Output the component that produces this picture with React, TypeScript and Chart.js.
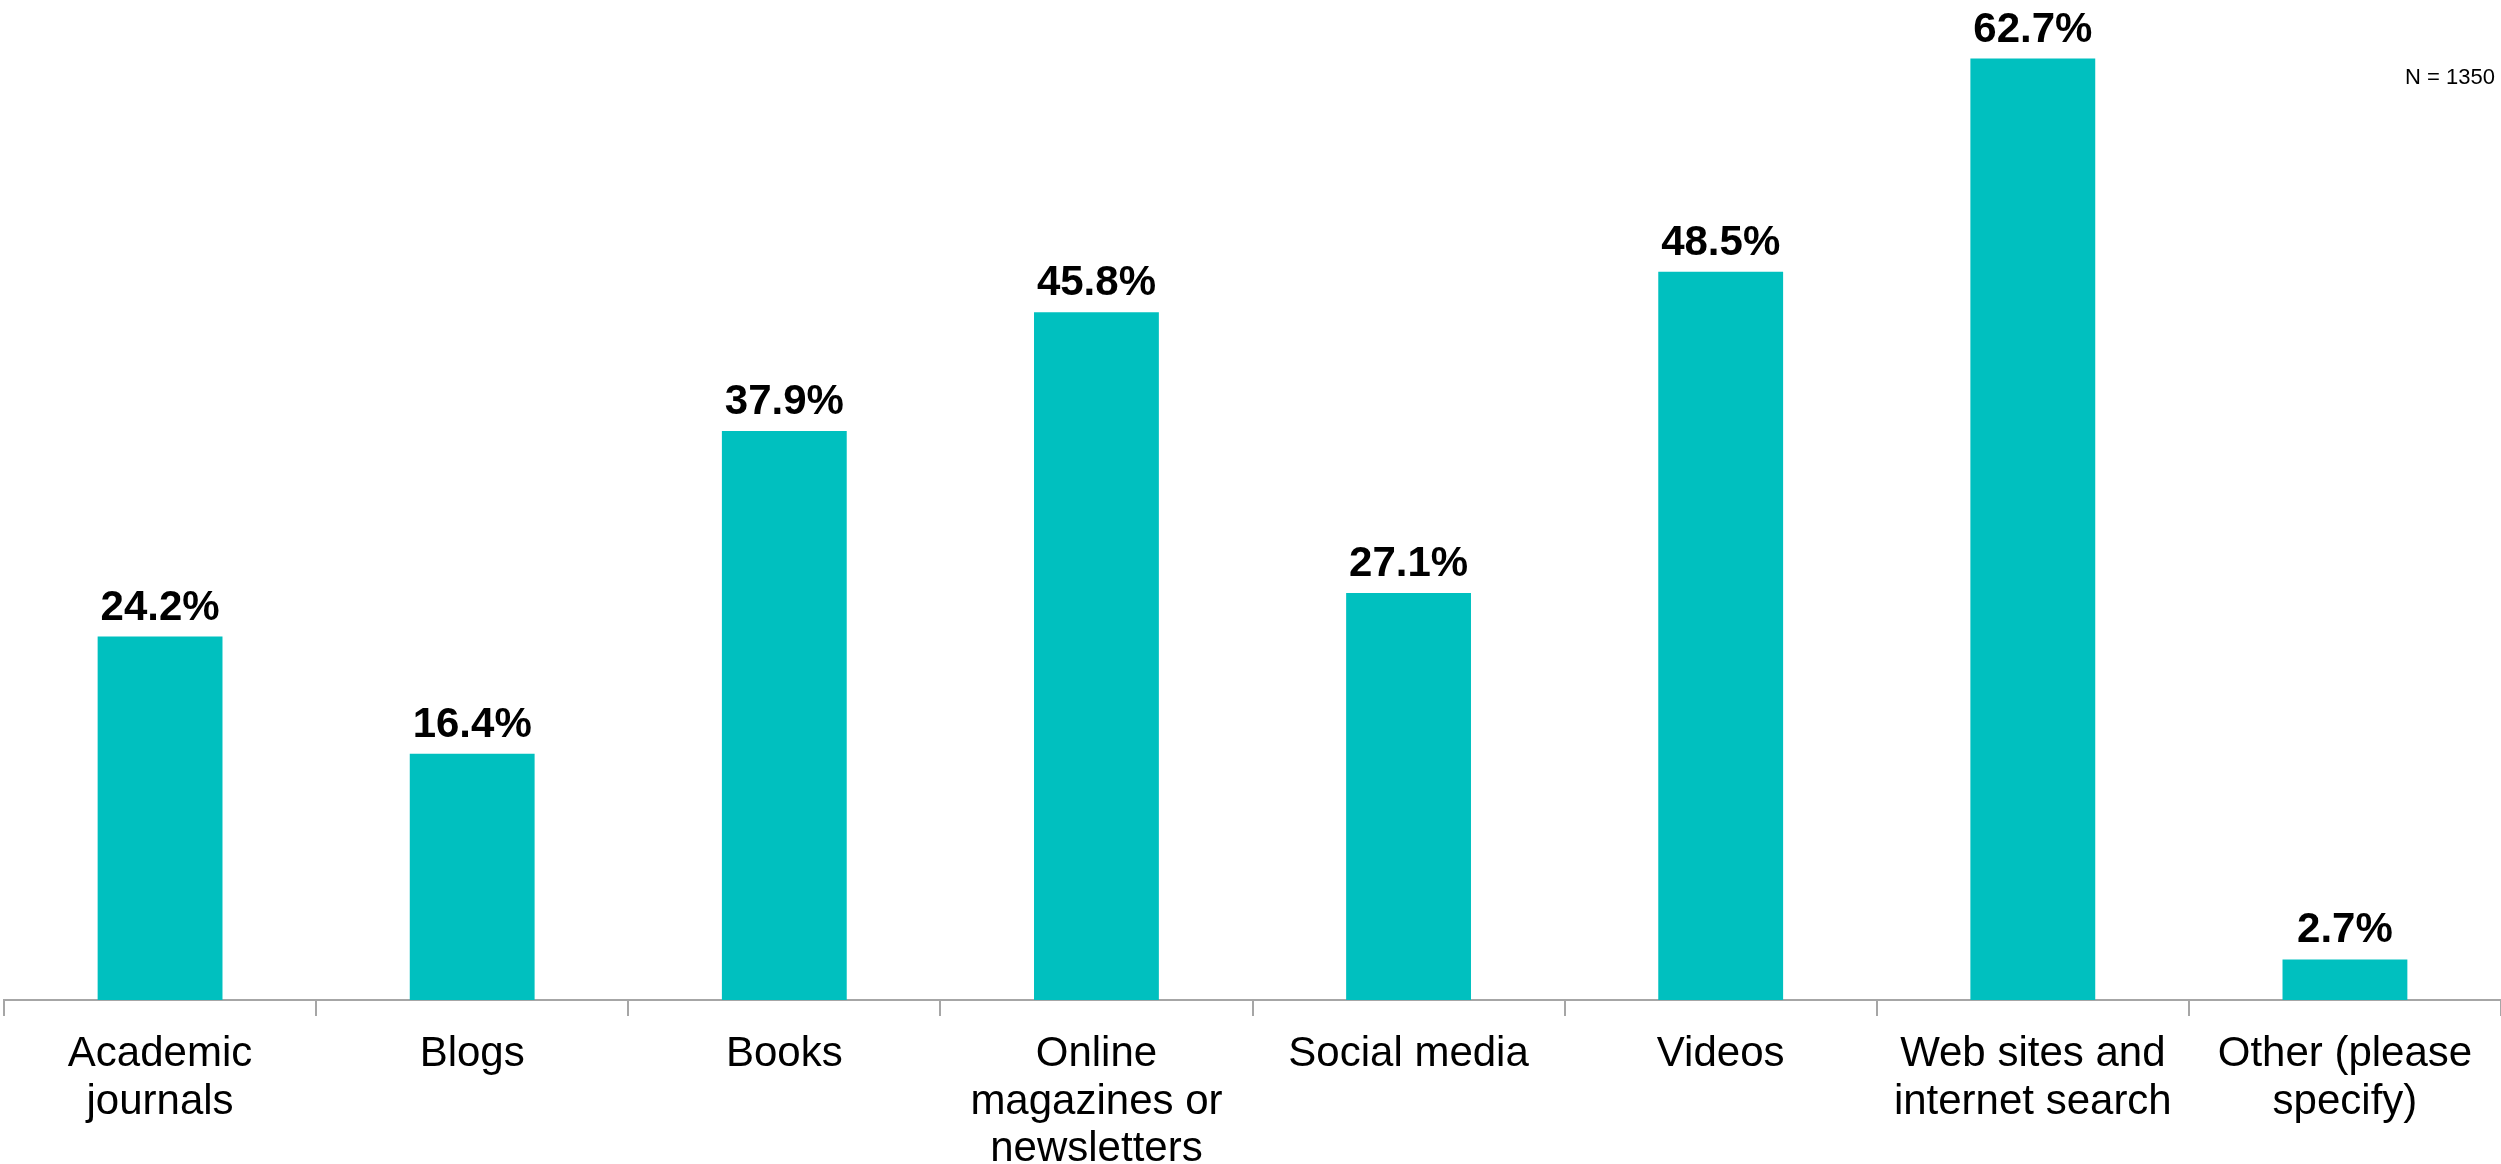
import React, { useEffect, useRef } from "react";
import { Chart, registerables } from "chart.js";

Chart.register(...registerables);

const categories: string[][] = [
  ["Academic", "journals"],
  ["Blogs"],
  ["Books"],
  ["Online", "magazines or", "newsletters"],
  ["Social media"],
  ["Videos"],
  ["Web sites and", "internet search"],
  ["Other (please", "specify)"],
];
const values: number[] = [24.2, 16.4, 37.9, 45.8, 27.1, 48.5, 62.7, 2.7];
const noteText = "N = 1350";

const FONT = "'Liberation Sans', Arial, sans-serif";

const labelPlugin = {
  id: "barLabels",
  afterDatasetsDraw(chart: any) {
    const ctx = chart.ctx;
    const meta = chart.getDatasetMeta(0);
    ctx.save();
    ctx.font = `bold 42px ${FONT}`;
    ctx.fillStyle = "#000000";
    ctx.textAlign = "center";
    ctx.textBaseline = "alphabetic";
    meta.data.forEach((bar: any, i: number) => {
      ctx.fillText(values[i].toFixed(1) + "%", bar.x, bar.y - 17);
    });
    ctx.font = `22px ${FONT}`;
    ctx.textAlign = "right";
    ctx.textBaseline = "middle";
    ctx.fillText(noteText, chart.width - 6, 78);
    ctx.restore();
  },
};

export default function App() {
  const ref = useRef<HTMLCanvasElement | null>(null);
  useEffect(() => {
    if (!ref.current) return;
    const chart = new Chart(ref.current, {
      type: "bar",
      data: {
        labels: categories,
        datasets: [
          {
            data: values,
            backgroundColor: "#00C0BF",
            borderWidth: 0,
            barPercentage: 0.8,
            categoryPercentage: 0.5,
          },
        ],
      },
      options: {
        animation: false,
        responsive: false,
        maintainAspectRatio: false,
        layout: { padding: { top: 39, left: 4, right: 0, bottom: 0 } },
        plugins: {
          legend: { display: false },
          tooltip: { enabled: false },
        },
        scales: {
          x: {
            offset: true,
            grid: {
              display: true,
              drawOnChartArea: false,
              drawTicks: true,
              tickLength: 16,
              offset: true,
              color: "#A6A6A6",
              lineWidth: 2,
            },
            border: { display: true, color: "#A6A6A6", width: 2 },
            ticks: {
              color: "#000000",
              font: { family: FONT, size: 42, lineHeight: 1.13 },
              padding: 15,
              maxRotation: 0,
              autoSkip: false,
            },
            afterFit: (scale: any) => {
              scale.height = 164;
            },
          },
          y: {
            display: false,
            min: 0,
            max: 64,
          },
        },
      },
      plugins: [labelPlugin],
    });
    return () => chart.destroy();
  }, []);
  return (
    <div style={{ position: "fixed", left: 0, top: 0, width: 2501, height: 1164, background: "#fff" }}>
      <canvas ref={ref} width={2501} height={1164} style={{ width: 2501, height: 1164, display: "block" }} />
    </div>
  );
}
